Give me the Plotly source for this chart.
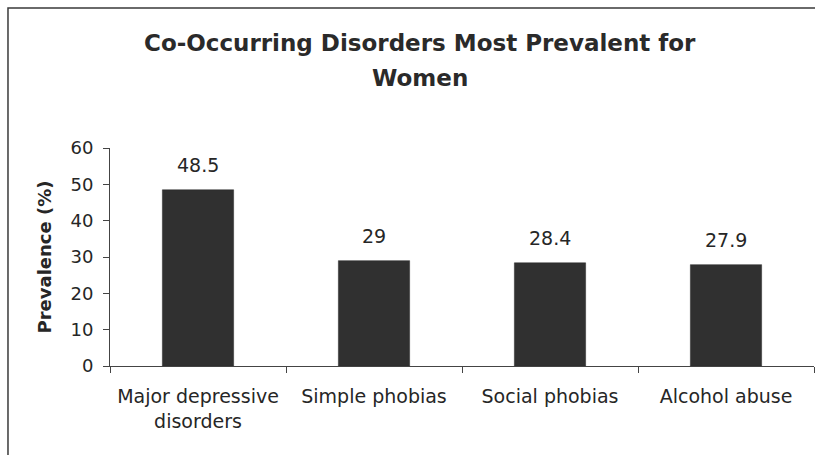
import plotly.graph_objects as go

categories = ["Major depressive<br>disorders", "Simple phobias", "Social phobias", "Alcohol abuse"]
prevalence = [48.5, 29, 28.4, 27.9]
value_labels = ["48.5", "29", "28.4", "27.9"]
y_ticks = [0, 10, 20, 30, 40, 50, 60]
title_lines = ["Co-Occurring Disorders Most Prevalent for", "Women"]

FONT = "DejaVu Sans, Verdana, sans-serif"
INK = "#262626"

fig = go.Figure(
    go.Bar(
        x=categories,
        y=prevalence,
        marker=dict(color="#303030", line=dict(color="#2a2a2a", width=0.5)),
        hoverinfo="skip",
    )
)

# value labels above each bar
for cat, val, lab in zip(categories, prevalence, value_labels):
    fig.add_annotation(
        x=cat, y=val, text=lab, showarrow=False,
        yanchor="bottom", yshift=12,
        font=dict(family=FONT, size=19, color=INK),
    )

# two-line heading
for line, ypos in zip(title_lines, [1.482, 1.321]):
    fig.add_annotation(
        x=0.4403, y=ypos, xref="paper", yref="paper",
        text=f"<b>{line}</b>", showarrow=False,
        xanchor="center", yanchor="middle",
        font=dict(family=FONT, size=23, color="#2a2a2a"),
    )

# outer frame of the chart area
fig.add_shape(
    type="rect", xref="paper", yref="paper",
    x0=-0.1449, x1=1.02, y0=-0.5, y1=1.642,
    line=dict(color="#3a3a3a", width=1.5), fillcolor="rgba(0,0,0,0)",
)

fig.update_layout(
    width=815, height=455,
    margin=dict(l=110, r=1, t=148, b=89),
    paper_bgcolor="white", plot_bgcolor="white",
    bargap=0.595,
    showlegend=False,
    font=dict(family=FONT, color=INK),
)

fig.update_xaxes(
    showline=True, linecolor="#444444", linewidth=1,
    ticks="outside", tickson="boundaries", ticklen=6, tickcolor="#444444",
    tickfont=dict(family=FONT, size=19, color=INK),
    ticklabelstandoff=13,
    showgrid=False,
)
fig.update_yaxes(
    range=[0, 60], tickvals=y_ticks,
    showline=True, linecolor="#444444", linewidth=1,
    ticks="outside", ticklen=6, tickcolor="#444444",
    tickfont=dict(family=FONT, size=18, color=INK),
    ticklabelstandoff=6,
    showgrid=False, zeroline=False,
    title=dict(text="<b>Prevalence (%)</b>", font=dict(family=FONT, size=18, color=INK), standoff=14),
)

fig.write_html("out.html")
